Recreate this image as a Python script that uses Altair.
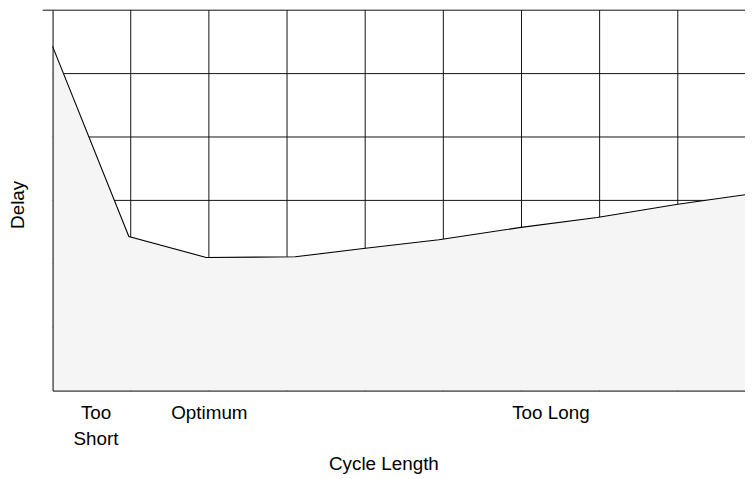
import json
import altair as alt
import pandas as pd

# ---- data ----
cycle = [0, 0.976, 1.965, 3.105, 3.976, 4.943, 5.97, 6.967, 8.0, 8.86]
delay = [5.43, 2.43, 2.10, 2.11, 2.24, 2.38, 2.57, 2.73, 2.94, 3.09]
vgrid = [1, 2, 3, 4, 5, 6, 7, 8]
hgrid = [1, 2, 3, 4, 5]
top_line = [6]
label_pos = [0.55, 2.0, 6.37]
label_text = [["Too", "Short"], "Optimum", "Too Long"]

X_MAX = 8.86
Y_MAX = 6
FONT = "Liberation Sans, Arial, sans-serif"
LINE = "#111111"

curve = pd.DataFrame({"cycle": cycle, "delay": delay})
vg = pd.DataFrame({"cycle": vgrid, "delay": [0] * len(vgrid), "delay2": [Y_MAX] * len(vgrid)})
hg = pd.DataFrame({"cycle": [0] * len(hgrid), "cycle2": [X_MAX] * len(hgrid), "delay": hgrid})
tl = pd.DataFrame({"delay": top_line})

xscale = alt.Scale(domain=[0, X_MAX], nice=False, zero=False)
yscale = alt.Scale(domain=[0, Y_MAX], nice=False, zero=False)

label_expr = "{}[indexof({}, datum.value)]".format(json.dumps(label_text), json.dumps(label_pos))

xaxis = alt.Axis(
    title="Cycle Length", values=label_pos, labelExpr=label_expr,
    grid=False, ticks=False, domain=True, domainColor="black", domainWidth=1,
    labelFont=FONT, labelFontSize=19, labelColor="black", labelPadding=13,
    labelBaseline="top", labelLineHeight=26, labelAlign="center", labelFlush=False,
    labelOverlap=False,
    titleFont=FONT, titleFontSize=19, titleFontWeight="normal", titleColor="black",
    titleX=334, titleY=80, titleBaseline="alphabetic", titleAlign="center", titleAnchor="start",
    zindex=1,
)
yaxis = alt.Axis(
    title="Delay", labels=False, ticks=False, grid=False, domain=True,
    domainColor="black", domainWidth=1,
    titleFont=FONT, titleFontSize=19, titleFontWeight="normal", titleColor="black",
    titleX=-35, titleY=196, titleAngle=270, titleBaseline="middle", titleAlign="center",
    titleAnchor="start",
    zindex=1,
)


def X(field):
    return alt.X(field, type="quantitative", scale=xscale, axis=xaxis)


def Y(field):
    return alt.Y(field, type="quantitative", scale=yscale, axis=yaxis)


vrules = alt.Chart(vg).mark_rule(color=LINE, strokeWidth=1).encode(
    x=X("cycle"), y=Y("delay"), y2="delay2"
)
hrules = alt.Chart(hg).mark_rule(color=LINE, strokeWidth=1).encode(
    x=X("cycle"), x2="cycle2", y=Y("delay")
)
toprule = alt.Chart(tl).mark_rule(color=LINE, strokeWidth=1).encode(
    x=alt.value(-10), x2=alt.value(699), y=Y("delay")
)
area = alt.Chart(curve).mark_area(color="#f5f5f5", opacity=1).encode(
    x=X("cycle"), y=Y("delay")
)
line = alt.Chart(curve).mark_line(color="black", strokeWidth=1.1).encode(
    x=X("cycle"), y=Y("delay")
)

chart = alt.layer(vrules, hrules, toprule, area, line).properties(
    width=699, height=384,
    autosize=alt.AutoSizeParams(type="none"),
    padding={"left": 45, "top": 0, "right": 0, "bottom": 84},
    background="white",
).configure_view(stroke=None)

chart.save("out.html", embed_options={"renderer": "svg", "actions": False})
